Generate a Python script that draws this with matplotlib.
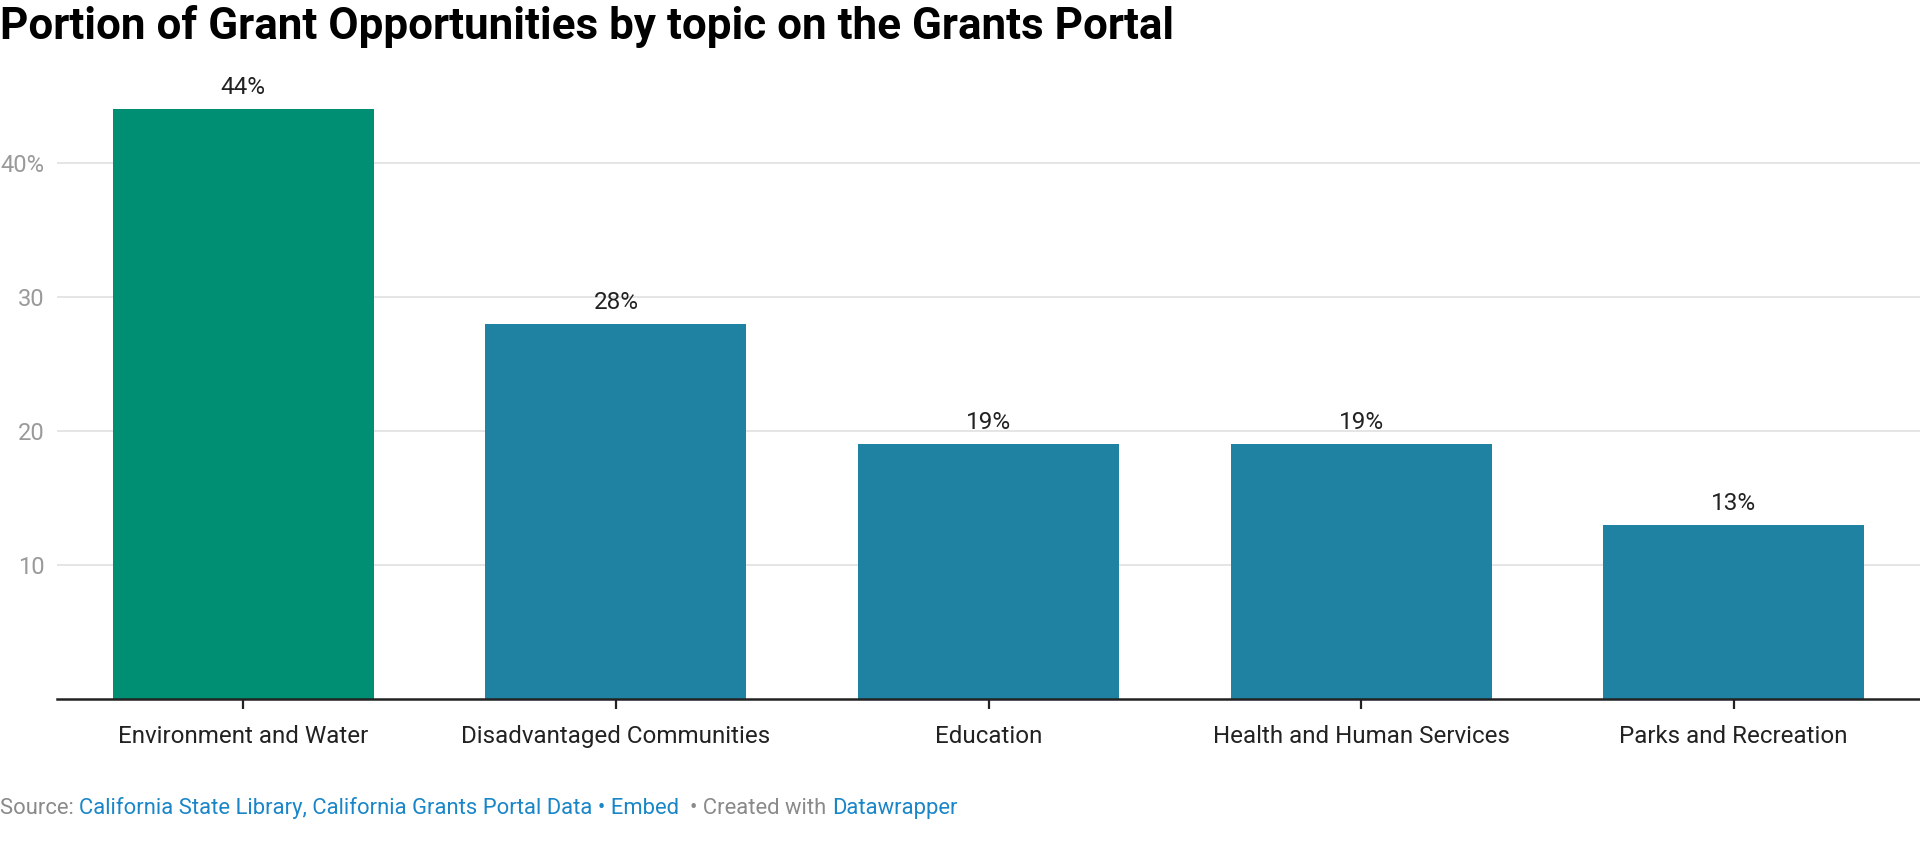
import matplotlib
matplotlib.use("Agg")
import matplotlib.pyplot as plt
import numpy as np

# data
topics = ["Environment and Water", "Disadvantaged Communities", "Education",
          "Health and Human Services", "Parks and Recreation"]
shares = [44, 28, 19, 19, 13]
bar_colors = ["#008f72", "#1f82a2", "#1f82a2", "#1f82a2", "#1f82a2"]
y_ticks = [10, 20, 30, 40]
y_tick_labels = ["10", "20", "30", "40%"]

plt.rcParams['font.family'] = ['Roboto', 'DejaVu Sans']

W, H = 1920, 846
fig = plt.figure(figsize=(W / 100, H / 100), dpi=100)
ymax = 46
ax_left, ax_bottom = 57 / W, 1 - 699 / H
ax_h = ymax * 13.4 / H
ax = fig.add_axes([ax_left, ax_bottom, 1 - ax_left, ax_h])

x = np.arange(len(topics))
ax.bar(x, shares, width=0.70, color=bar_colors, zorder=2)
for xi, v in zip(x, shares):
    ax.annotate(f"{v}%", (xi, v), xytext=(0, 11), textcoords="offset points",
                ha="center", va="baseline", fontsize=17.5, color="#222222")

ax.set_xlim(-0.5, 4.5)
ax.set_ylim(0, ymax)
ax.set_yticks(y_ticks)
ax.set_yticklabels(y_tick_labels)
ax.set_xticks(x)
ax.set_xticklabels(topics)
ax.grid(axis="y", color="#e3e3e3", linewidth=1.3, zorder=0)
ax.tick_params(axis="y", length=0, pad=9, labelsize=17, labelcolor="#9a9a9a")
ax.tick_params(axis="x", length=7, width=1.6, color="#222222", pad=12,
               labelsize=17.4, labelcolor="#222222")
for s in ["top", "right", "left"]:
    ax.spines[s].set_visible(False)
ax.spines["bottom"].set_color("#222222")
ax.spines["bottom"].set_linewidth(1.8)
ax.spines["bottom"].set_zorder(3)

fig.text(0.0, 1 - 27 / H, "Portion of Grant Opportunities by topic on the Grants Portal",
         fontsize=31.7, fontweight="bold", color="#000000", va="center", ha="left")

# footer, pieced together in different colours
parts = [("Source: ", "#8a8a8a"),
         ("California State Library, California Grants Portal Data • Embed", "#1a86c8"),
         ("  • Created with ", "#8a8a8a"),
         ("Datawrapper", "#1a86c8")]
fig.canvas.draw()
renderer = fig.canvas.get_renderer()
xpos = 0.0
for txt, col in parts:
    t = fig.text(xpos, 1 - 808 / H, txt, fontsize=15.8, color=col, va="center", ha="left")
    bb = t.get_window_extent(renderer=renderer)
    xpos += bb.width / W

fig.savefig("out.png", dpi=100)
